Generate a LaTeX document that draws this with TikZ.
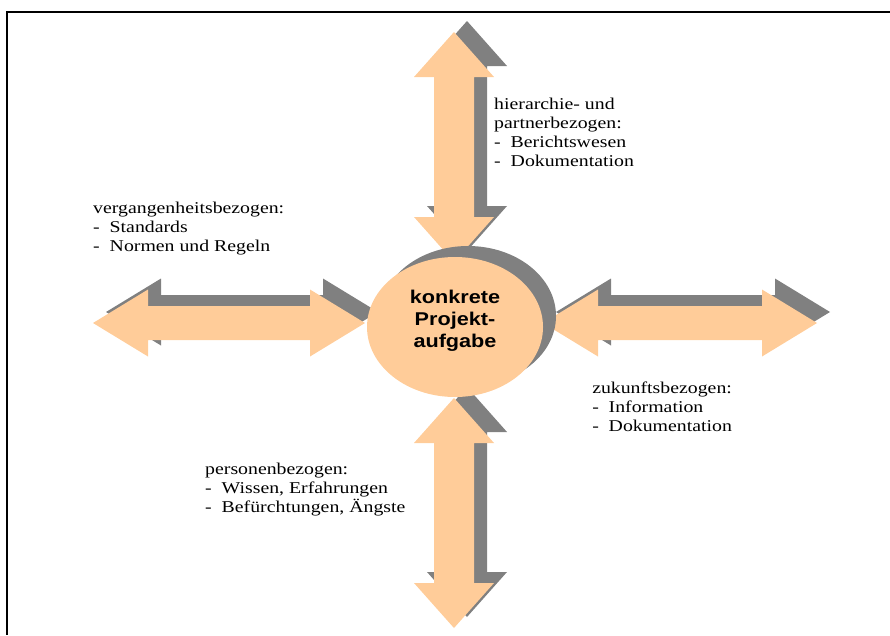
\documentclass[tikz,border=0pt]{standalone}
\usepackage{fontspec}
\setmainfont{Liberation Serif}
\newfontfamily\headfont{Liberation Sans}
\usepackage{tikz}
\usetikzlibrary{shapes.geometric}
\definecolor{peach}{RGB}{255,204,153}
\definecolor{shadowgrey}{RGB}{128,128,128}
\tikzset{
blockarrow/.style={fill=peach},
arrowshadow/.style={fill=shadowgrey,shift={(13,-11)}},
notes/.style={align=left,anchor=north west,inner sep=0pt,xscale=1.2,font=\fontsize{16.5}{19}\selectfont},
taskellipse/.style={ellipse,fill=peach,minimum width=176pt,minimum height=140pt,inner sep=0pt},
tasklabel/.style={align=center,inner sep=0pt,xscale=1.17,font=\headfont\bfseries\fontsize{18.5}{22}\selectfont}
}
% block arrows: #1 centre, #2/#3 tips, #4 style
\newcommand\vblockarrow[4]{\fill[#4] (#1,#2) -- ++(40,45) -- ++(-20,0) -- (#1+20,#3-45) -- ++(20,0) -- (#1,#3)
  -- ++(-40,-45) -- ++(20,0) -- (#1-20,#2+45) -- ++(-20,0) -- cycle;}
\newcommand\hblockarrow[4]{\fill[#4] (#2,#1) -- ++(55,-33.5) -- ++(0,16.5) -- (#3-55,#1-17) -- ++(0,-16.5) -- (#3,#1)
  -- ++(-55,33.5) -- ++(0,-16.5) -- (#2+55,#1+17) -- ++(0,16.5) -- cycle;}

\begin{document}
\begin{tikzpicture}[x=1pt,y=-1pt]
\useasboundingbox (0,0) rectangle (890,635);
\draw[line width=1.5pt] (890,12) -- (7,12) -- (7,635);

% four arrows, shadow first
\vblockarrow{454}{32}{262}{arrowshadow}
\vblockarrow{454}{32}{262}{blockarrow}
\vblockarrow{454}{398}{628}{arrowshadow}
\vblockarrow{454}{398}{628}{blockarrow}
\hblockarrow{323}{93}{365}{arrowshadow}
\hblockarrow{323}{93}{365}{blockarrow}
\hblockarrow{323}{543}{817}{arrowshadow}
\hblockarrow{323}{543}{817}{blockarrow}

% centre
\fill[shadowgrey] (468,316) ellipse [x radius=88pt,y radius=70pt];
\node[taskellipse] (task) at (455,327) {};
\node[tasklabel] (tasklabel) at (455,321) {konkrete\\Projekt-\\aufgabe};

\node[notes] (hier) at (494,98) {hierarchie- und\\partnerbezogen:\\-~~Berichtswesen\\-~~Dokumentation};
\node[notes] (past) at (93,202) {vergangenheitsbezogen:\\-~~Standards\\-~~Normen und Regeln};
\node[notes] (future) at (592,382) {zukunftsbezogen:\\-~~Information\\-~~Dokumentation};
\node[notes] (people) at (205,463) {personenbezogen:\\-~~Wissen, Erfahrungen\\-~~Befürchtungen, Ängste};
\end{tikzpicture}
\end{document}
